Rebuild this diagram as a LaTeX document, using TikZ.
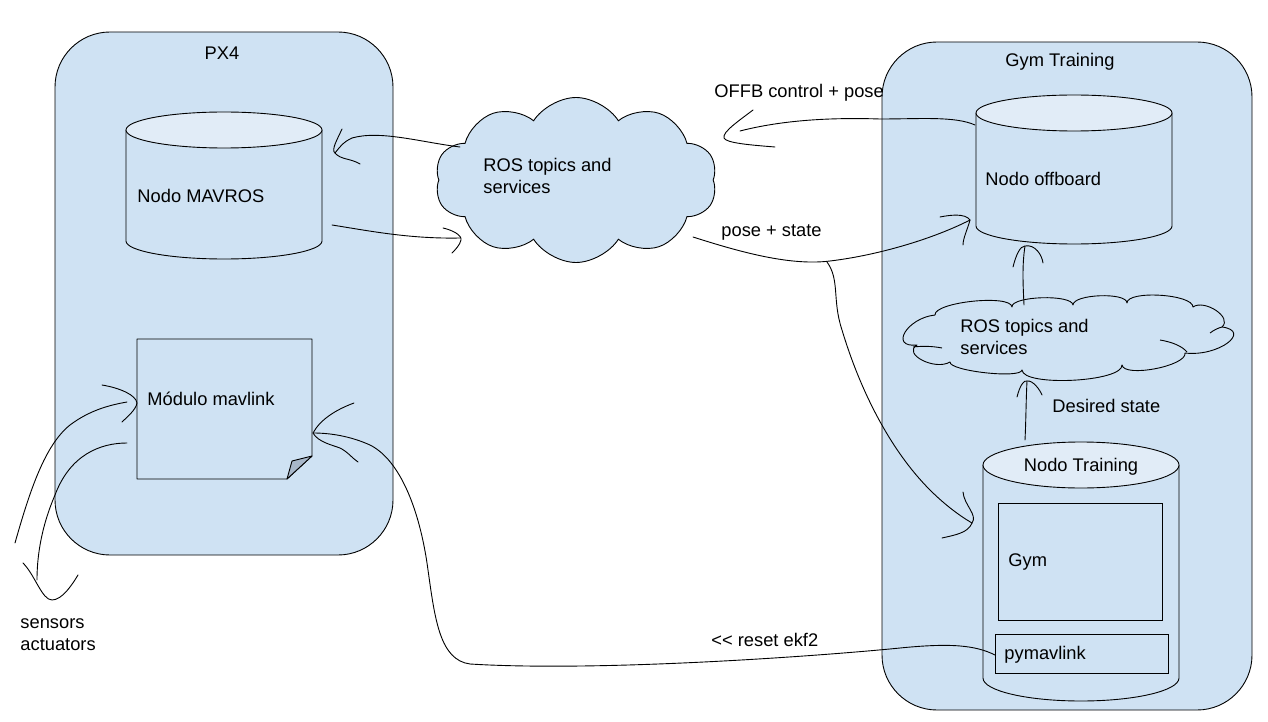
\documentclass[tikz,border=0pt]{standalone}
\usepackage{fontspec}
\setmainfont{Liberation Sans}
\usetikzlibrary{shapes.symbols}
\definecolor{boxblue}{HTML}{CFE2F3}
\definecolor{topblue}{HTML}{E1ECF7}
\definecolor{foldgray}{HTML}{A8B7C9}
\begin{document}
\begin{tikzpicture}[x=1pt,y=-1pt, line width=0.9pt,
  every node/.style={font=\fontsize{18.3}{22}\selectfont, inner sep=0pt},
  container/.style={draw, fill=boxblue, rounded corners=55pt},
  lbl/.style={anchor=west, align=left},
  plainbox/.style={draw, anchor=north west},
  rosc/.style={cloud, draw, fill=boxblue, cloud ignores aspect},
  conn/.style={line width=0.9pt, line cap=round, line join=round},
  ]
\useasboundingbox (0,0) rectangle (1268,722);

% containers
\node[container, minimum width=338pt, minimum height=523pt] (px4) at (224,293.5) {};
\node (px4lbl) at (222,53) {PX4};
\node[container, minimum width=370pt, minimum height=668pt] (gymbox) at (1067,376) {};
\node (gymlbl) at (1060,62) {Gym Training};

% Nodo MAVROS cylinder
\draw[fill=boxblue] (126,130) -- (126,241) arc[start angle=180, end angle=0, x radius=98, y radius=18] -- (322,130);
\draw[fill=topblue] (224,130) ellipse[x radius=98, y radius=18];
\node[lbl] (mavlbl) at (137,196) {Nodo MAVROS};

% Nodo offboard cylinder
\draw[fill=boxblue] (976,113) -- (976,226) arc[start angle=180, end angle=0, x radius=98, y radius=18] -- (1172,113);
\draw[fill=topblue] (1074,113) ellipse[x radius=98, y radius=18];
\node[lbl] (offlbl) at (985,179) {Nodo offboard};

% Nodo Training cylinder
\draw[fill=boxblue] (983,465) -- (983,678) arc[start angle=180, end angle=0, x radius=98, y radius=23] -- (1179,465);
\draw[fill=topblue] (1081,465) ellipse[x radius=98, y radius=23];
\node (trnlbl) at (1081,467) {Nodo Training};
\node[plainbox, minimum width=164pt, minimum height=117pt] (gym) at (998,503) {};
\node[lbl] (gymtxt) at (1008,562) {Gym};
\node[plainbox, minimum width=173pt, minimum height=39pt] (pym) at (995,634) {};
\node[lbl] (pymtxt) at (1004,655) {pymavlink};

% Modulo mavlink note
\draw[fill=boxblue, line join=round] (137,339) -- (312,339) -- (312,456) -- (287,479) -- (137,479) -- cycle;
\draw[fill=foldgray, line join=round] (312,456) -- (292,461) -- (287,479) -- cycle;
\node[lbl] (modlbl) at (147,399) {Módulo mavlink};

% cloud A
\node[rosc, cloud puffs=10, cloud puff arc=115, minimum width=282pt, minimum height=165pt] (cloudA) at (576,180) {};
\node[lbl] (cloudAtxt) at (483,176) {ROS topics and\\services};

% cloud B (drawn puff by puff)
\coordinate (cloudB) at (1067,338);
\draw[fill=boxblue, line join=round]
  (935,315) .. controls (934,302) and (1011,294) .. (1012,307)
  .. controls (1011,296) and (1072,294) .. (1073,305)
  .. controls (1073,294) and (1127,292) .. (1127,303)
  .. controls (1127,290) and (1193,294) .. (1193,307)
  .. controls (1204,299) and (1233,317) .. (1222,327)
  .. controls (1252,331) and (1219,357) .. (1185,353)
  .. controls (1187,366) and (1124,378) .. (1122,365)
  .. controls (1123,382) and (1023,387) .. (1022,370)
  .. controls (1021,379) and (949,371) .. (950,362)
  .. controls (935,371) and (902,354) .. (917,345)
  .. controls (889,348) and (907,318) .. (935,315) -- cycle;
\draw (913,347) .. controls (922,346) and (932,346) .. (942,348);
\draw (1160,340) .. controls (1172,342) and (1182,346) .. (1187,352);
\draw (1210,333) .. controls (1214,330) and (1218,328) .. (1222,327);
\node[lbl] (cloudBtxt) at (960,337) {ROS topics and\\services};

% free labels
\node[lbl] (offbtxt) at (714,93) {OFFB control + pose};
\node[lbl] (posetxt) at (721,232) {pose + state};
\node[lbl] (desttxt) at (1052,406) {Desired state};
\node[lbl] (resettxt) at (711,640) {<\kern0pt< reset ekf2};
\node[lbl] (senstxt) at (20,635) {sensors\\actuators};

% connector end points
\coordinate (cA-w1) at (460,147);
\coordinate (mav-e1) at (335,153);
\coordinate (mav-e2) at (332,225);
\coordinate (cA-w2) at (460,238);
\coordinate (off-w1) at (975,125);
\coordinate (cA-e1) at (740,131);
\coordinate (cA-e2) at (693,237);
\coordinate (off-sw) at (970,220);
\coordinate (branch) at (827,262);
\coordinate (trn-w) at (972,523);
\coordinate (trn-n) at (1025,440);
\coordinate (cB-s) at (1027,381);
\coordinate (cB-n) at (1024,305);
\coordinate (off-s) at (1025,246);
\coordinate (pym-w) at (995,655);
\coordinate (mod-e) at (313,433);
\coordinate (sens) at (15,543);
\coordinate (mod-w1) at (127,402);
\coordinate (mod-w2) at (127,443);
\coordinate (act) at (37,580);

% 1 cloudA -> MAVROS
\draw[conn] (cA-w1) .. controls (420,142) and (380,130) .. (352,138) .. controls (343,142) and (339,148) .. (mav-e1);
\draw[conn] (342,129) .. controls (337,140) and (331,150) .. (mav-e1) .. controls (341,160) and (350,158) .. (360,164);
% 2 MAVROS -> cloudA
\draw[conn] (mav-e2) .. controls (370,231) and (410,239) .. (cA-w2);
\draw[conn] (443,228) .. controls (452,230) and (462,235) .. (461,240) .. controls (460,245) and (455,250) .. (452,253);
% 3 offboard -> cloudA
\draw[conn] (off-w1) .. controls (955,116) and (920,119) .. (880,119) .. controls (820,117) and (775,122) .. (cA-e1);
\draw[conn] (753,110) .. controls (740,120) and (722,132) .. (724,138) .. controls (726,143) and (750,145) .. (775,147);
% 4 cloudA -> offboard
\draw[conn] (cA-e2) .. controls (740,252) and (790,266) .. (830,261) .. controls (880,255) and (935,238) .. (off-sw);
\draw[conn] (940,217) .. controls (950,215) and (965,213) .. (off-sw) .. controls (968,228) and (963,238) .. (963,245);
% 5 branch -> Nodo Training
\draw[conn] (branch) .. controls (840,280) and (832,300) .. (842,330) .. controls (860,390) and (890,450) .. (930,490) .. controls (945,505) and (960,516) .. (trn-w);
\draw[conn] (963,492) .. controls (964,505) and (978,515) .. (trn-w) .. controls (968,533) and (955,535) .. (942,538);
% 6 Nodo Training -> cloudB
\draw[conn] (trn-n) .. controls (1026,420) and (1026,400) .. (cB-s);
\draw[conn] (1017,397) .. controls (1020,385) and (1024,380) .. (cB-s) .. controls (1033,380) and (1040,390) .. (1042,395);
% 7 cloudB -> offboard
\draw[conn] (cB-n) .. controls (1023,285) and (1022,265) .. (off-s);
\draw[conn] (1013,267) .. controls (1016,255) and (1020,246) .. (off-s) .. controls (1035,244) and (1042,255) .. (1043,263);
% 8 pymavlink -> Modulo mavlink
\draw[conn] (pym-w) .. controls (975,645) and (950,643) .. (900,648) .. controls (820,656) and (600,672) .. (470,664) .. controls (440,660) and (435,620) .. (428,570) .. controls (420,510) and (400,460) .. (370,445) .. controls (350,436) and (330,433) .. (mod-e);
\draw[conn] (354,403) .. controls (335,410) and (320,420) .. (mod-e) .. controls (318,442) and (332,445) .. (340,448) .. controls (348,452) and (352,458) .. (358,462);
% 9 sensors -> Modulo mavlink
\draw[conn] (sens) .. controls (30,490) and (45,445) .. (70,425) .. controls (90,410) and (110,405) .. (mod-w1);
\draw[conn] (102,385) .. controls (120,388) and (136,395) .. (137,403) .. controls (136,410) and (126,418) .. (122,422);
% 10 Modulo mavlink -> actuators
\draw[conn] (mod-w2) .. controls (100,443) and (70,455) .. (55,495) .. controls (40,530) and (37,560) .. (act);
\draw[conn] (23,563) .. controls (35,575) and (42,600) .. (52,600) .. controls (62,600) and (72,585) .. (78,575);
\end{tikzpicture}
\end{document}
